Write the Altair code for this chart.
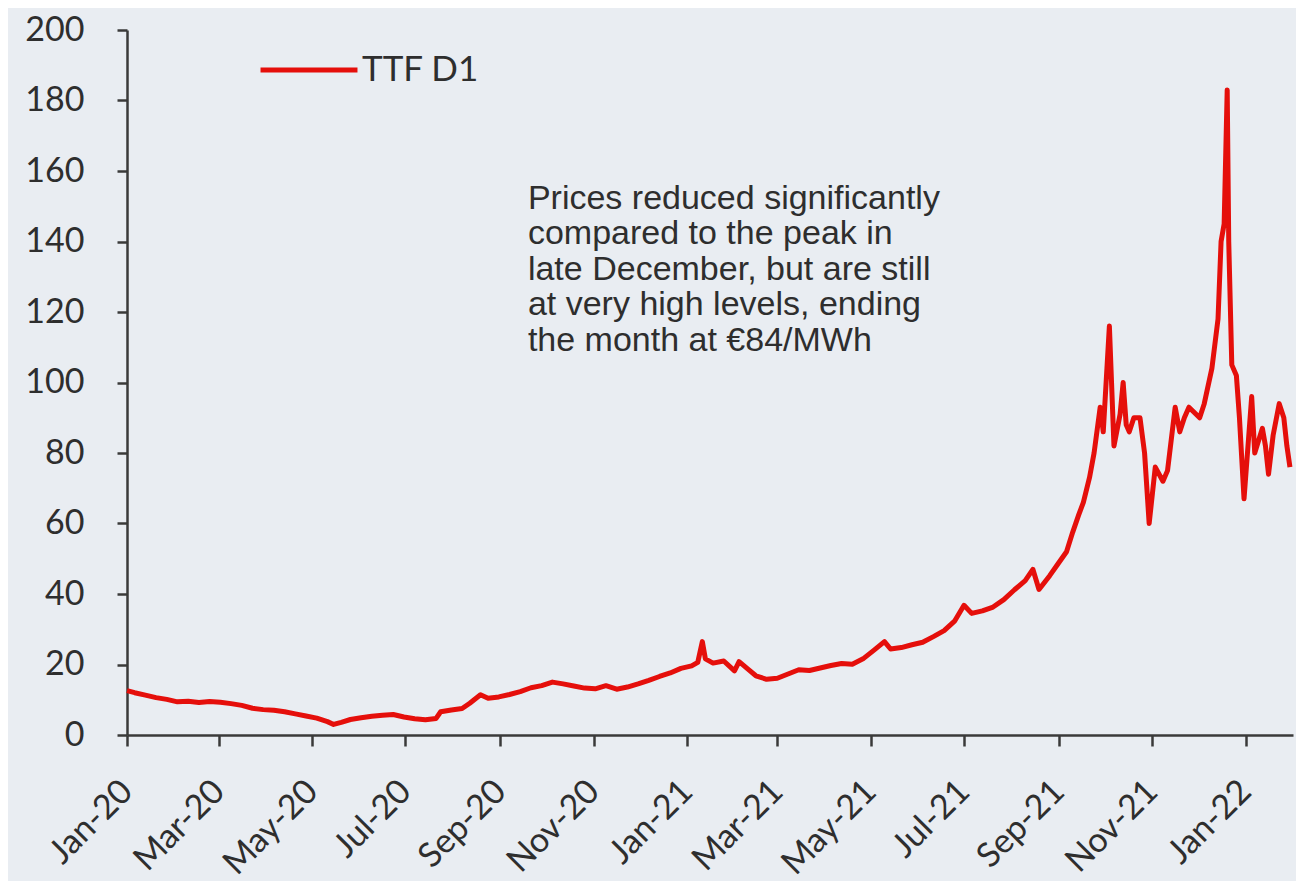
import altair as alt
import pandas as pd

DATES = [
    "2020-01-01", "2020-01-06", "2020-01-13", "2020-01-20", "2020-01-27", "2020-02-03", "2020-02-10",
    "2020-02-17", "2020-02-24", "2020-03-02", "2020-03-09", "2020-03-16", "2020-03-23", "2020-03-30",
    "2020-04-06", "2020-04-13", "2020-04-20", "2020-04-27", "2020-05-04", "2020-05-11", "2020-05-15",
    "2020-05-20", "2020-05-26", "2020-06-02", "2020-06-09", "2020-06-16", "2020-06-23", "2020-06-30",
    "2020-07-07", "2020-07-14", "2020-07-21", "2020-07-24", "2020-07-31", "2020-08-07", "2020-08-12",
    "2020-08-19", "2020-08-24", "2020-08-31", "2020-09-07", "2020-09-14", "2020-09-21", "2020-09-28",
    "2020-10-05", "2020-10-12", "2020-10-19", "2020-10-26", "2020-11-02", "2020-11-09", "2020-11-16",
    "2020-11-23", "2020-11-30", "2020-12-07", "2020-12-14", "2020-12-21", "2020-12-28",
    "2021-01-04", "2021-01-08", "2021-01-11", "2021-01-13", "2021-01-18", "2021-01-25", "2021-02-01",
    "2021-02-04", "2021-02-10", "2021-02-15", "2021-02-22", "2021-03-01", "2021-03-08", "2021-03-15",
    "2021-03-22", "2021-03-29", "2021-04-05", "2021-04-12", "2021-04-19", "2021-04-26", "2021-05-03",
    "2021-05-10", "2021-05-14", "2021-05-21", "2021-05-28", "2021-06-04", "2021-06-11", "2021-06-18",
    "2021-06-25", "2021-07-01", "2021-07-06", "2021-07-13", "2021-07-20", "2021-07-27", "2021-08-03",
    "2021-08-10", "2021-08-15", "2021-08-19", "2021-08-26", "2021-08-31", "2021-09-06", "2021-09-10",
    "2021-09-14", "2021-09-17", "2021-09-21", "2021-09-24", "2021-09-28", "2021-09-30", "2021-10-04",
    "2021-10-07", "2021-10-11", "2021-10-13", "2021-10-15", "2021-10-17", "2021-10-20", "2021-10-24",
    "2021-10-27", "2021-10-30", "2021-11-03", "2021-11-08", "2021-11-11", "2021-11-16", "2021-11-19",
    "2021-11-22", "2021-11-25", "2021-12-02", "2021-12-05", "2021-12-10", "2021-12-14", "2021-12-16",
    "2021-12-18", "2021-12-20", "2021-12-21", "2021-12-23", "2021-12-26", "2021-12-28", "2021-12-31",
    "2022-01-05", "2022-01-07", "2022-01-12", "2022-01-14", "2022-01-16", "2022-01-19", "2022-01-23",
    "2022-01-26", "2022-01-28", "2022-01-30",
]
VALUES = [
    12.6, 12.0, 11.3, 10.6, 10.1, 9.4, 9.6,
    9.2, 9.5, 9.3, 8.9, 8.4, 7.6, 7.2,
    7.0, 6.6, 6.0, 5.4, 4.8, 3.8, 3.0,
    3.6, 4.4, 4.9, 5.3, 5.6, 5.8, 5.1,
    4.6, 4.3, 4.7, 6.6, 7.1, 7.5, 9.0,
    11.4, 10.4, 10.8, 11.5, 12.3, 13.4, 14.0,
    15.0, 14.5, 13.9, 13.3, 13.1, 14.0, 13.0,
    13.6, 14.5, 15.5, 16.6, 17.6, 18.9,
    19.6, 20.6, 26.5, 21.6, 20.4, 21.0, 18.2,
    20.8, 18.6, 16.8, 15.8, 16.1, 17.3, 18.5,
    18.3, 19.0, 19.7, 20.3, 20.1, 21.6, 24.0,
    26.5, 24.4, 24.8, 25.6, 26.3, 27.9, 29.6,
    32.4, 36.8, 34.5, 35.2, 36.3, 38.4, 41.2,
    43.8, 47.0, 41.3, 45.2, 48.3, 52.0, 57.5,
    62.5, 66.0, 73.0, 80.0, 93.0, 86.0, 116.0,
    82.0, 91.0, 100.0, 88.0, 86.0, 90.0, 90.0,
    80.0, 60.0, 76.0, 72.0, 75.0, 93.0, 86.0,
    90.0, 93.0, 90.0, 94.0, 104.0, 118.0, 140.0,
    145.0, 183.0, 140.0, 105.0, 102.0, 90.0, 67.0,
    96.0, 80.0, 87.0, 82.0, 74.0, 85.0, 94.0,
    90.0, 82.0, 76.0,
]
SERIES = "TTF D1"
Y_TICKS = [0, 20, 40, 60, 80, 100, 120, 140, 160, 180, 200]
X_TICK_MONTHS = [(2020, 1), (2020, 3), (2020, 5), (2020, 7), (2020, 9), (2020, 11),
                 (2021, 1), (2021, 3), (2021, 5), (2021, 7), (2021, 9), (2021, 11), (2022, 1)]
ANNOT_LINES = [
    "Prices reduced significantly",
    "compared to the peak in",
    "late December, but are still",
    "at very high levels, ending",
    "the month at €84/MWh",
]
ANNOT_DATE = ["2020-09-19"]
ANNOT_VALUE = [157]

RED = "#e50f0b"
BG = "#e9edf2"
AXIS = "#3a3a3a"
TEXT = "#2e2e2e"

df = pd.DataFrame({"date": DATES, "value": VALUES, "series": SERIES})
ann = pd.DataFrame({"date": ANNOT_DATE, "value": ANNOT_VALUE})

x_scale = alt.Scale(type="utc", domain=[alt.DateTime(year=2020, month=1, date=1, utc=True),
                                        alt.DateTime(year=2022, month=2, date=1, utc=True)])
y_scale = alt.Scale(domain=[0, 200], nice=False)

x_axis = alt.Axis(
    title=None, grid=False,
    labelExpr="utcFormat(datum.value, '%b-%y')",
    values=[alt.DateTime(year=y, month=m, date=1, utc=True) for y, m in X_TICK_MONTHS],
    labelAngle=-45, labelAlign="right", labelBaseline="middle",
    labelFont="Lato", labelFontSize=34, labelColor=TEXT, labelPadding=40,
    domainColor=AXIS, domainWidth=2.5, tickColor=AXIS, tickWidth=2.5, tickSize=11,
    labelOverlap=False, labelFlush=False,
)
y_axis = alt.Axis(
    title=None, grid=False, values=Y_TICKS,
    labelFont="Lato", labelFontSize=34, labelColor=TEXT, labelPadding=33,
    domainColor=AXIS, domainWidth=2.5, tickColor=AXIS, tickWidth=2.5, tickSize=10,
)

line = alt.Chart(df).mark_line(strokeWidth=5, strokeJoin="round").encode(
    x=alt.X("date:T", scale=x_scale, axis=x_axis),
    y=alt.Y("value:Q", scale=y_scale, axis=y_axis),
    color=alt.Color(
        "series:N",
        scale=alt.Scale(domain=[SERIES], range=[RED]),
        legend=alt.Legend(
            orient="none", legendX=131, legendY=-11, title=None,
            symbolType="stroke", symbolSize=9400, symbolStrokeWidth=5,
            labelFont="Lato", labelFontSize=35, labelColor=TEXT, labelOffset=2,
            padding=0,
        ),
    ),
)

note = alt.Chart(ann).mark_text(
    text=ANNOT_LINES, align="left", baseline="top", font="Liberation Sans",
    fontSize=34, lineHeight=35.5, color=TEXT,
).encode(
    x=alt.X("date:T", scale=x_scale),
    y=alt.Y("value:Q", scale=y_scale),
)

chart = alt.layer(line, note).properties(
    width=1166, height=705,
    padding={"left": 119, "top": 22, "right": 3, "bottom": 146},
    autosize=alt.AutoSizeParams(type="none"),
    background=BG,
).configure_view(strokeWidth=0, fill=BG)

chart.save("out.html", embed_options={"renderer": "svg", "actions": False})
